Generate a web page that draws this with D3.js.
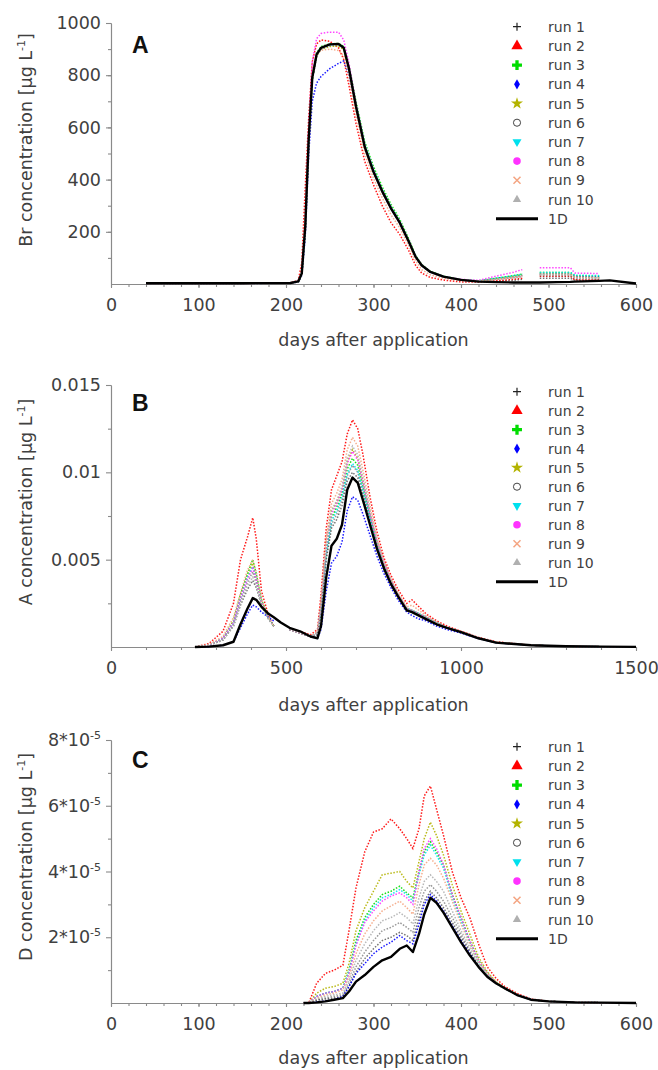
<!DOCTYPE html>
<html><head><meta charset="utf-8">
<script src="https://cdn.jsdelivr.net/npm/d3@7"></script>
<style>body{margin:0;background:#fff}</style>
</head><body><svg id="c" width="658" height="1070"></svg>
<script>
// ---------------- DATA ----------------
const seriesNames = ['run 1','run 2','run 3','run 4','run 5','run 6','run 7','run 8','run 9','run 10','1D'];

// Panel A: Br
const daysA = [40,150,205,214,218,222,226,230,235,240,250,260,266,272,280,290,300,310,320,330,340,348,355,365,380,400,420,440,460,470,480,490,510,525,530,558,570,600];
const br1D   = [3,3,4,10,40,220,560,790,880,905,918,920,905,825,680,525,430,355,290,235,165,105,72,46,28,16,9,7,6,6,6,6,7,8,9,12,14,2];
const brRun1 = [2,2,3,9,35,200,540,780,875,900,912,915,900,822,678,522,428,352,288,232,162,103,70,45,27,15,9,10,14,18,null,22,22,22,15,14,null,null];
const brRun2 = [2,2,4,14,80,370,640,850,920,935,930,905,860,760,615,470,380,300,235,190,130,72,42,25,15,8,8,12,18,22,null,30,30,30,16,15,null,null];
const brRun3 = [2,2,3,9,38,210,550,785,885,910,920,922,910,835,700,545,450,372,305,248,175,110,75,48,30,17,12,22,32,38,null,44,44,44,32,30,null,null];
const brRun4 = [2,2,3,8,32,180,500,700,770,795,825,845,855,800,675,520,428,352,288,233,163,104,71,45,27,15,11,20,28,33,null,38,38,38,28,26,null,null];
const brRun5 = [2,2,3,9,36,205,545,780,875,900,910,912,898,820,676,522,428,354,290,236,166,106,72,46,28,16,11,20,28,33,null,38,38,38,26,24,null,null];
const brRun6 = [2,2,3,9,36,205,548,785,878,902,915,918,903,824,680,524,430,355,290,235,165,105,72,46,28,16,10,18,24,28,null,32,32,32,22,20,null,null];
const brRun7 = [2,2,3,9,38,210,550,785,880,905,915,918,905,828,690,535,440,362,296,240,168,107,73,47,29,17,12,22,32,38,null,44,44,44,34,32,null,null];
const brRun8 = [2,2,3,10,45,240,600,850,940,960,965,965,935,845,690,530,435,358,292,238,167,106,73,47,29,18,14,30,45,55,null,62,62,62,42,40,null,null];
const brRun9 = [2,2,3,10,50,260,580,810,880,895,900,895,875,795,650,500,405,330,265,215,150,90,55,35,22,13,10,18,26,30,null,36,36,36,26,24,null,null];
const brRun10= [2,2,3,9,37,210,548,782,877,902,914,917,903,826,682,528,433,357,292,237,166,106,72,46,28,16,10,18,25,30,null,35,35,35,24,22,null,null];

// Panel B: A
const daysB = [240,280,320,350,370,390,405,415,430,450,465,485,510,540,570,590,600,615,630,645,660,675,690,705,720,740,760,780,800,820,845,860,880,900,930,960,1000,1050,1100,1200,1300,1400,1500];
const a1D   = [0,0.00002,0.0001,0.0003,0.0013,0.0022,0.0028,0.0027,0.0023,0.0019,0.0017,0.0014,0.0011,0.0009,0.0006,0.0005,0.0012,0.0040,0.0058,0.0062,0.0070,0.0090,0.0097,0.0094,0.0084,0.0070,0.0056,0.0045,0.0036,0.0029,0.0021,0.0020,0.0018,0.0016,0.0013,0.0011,0.00085,0.0005,0.00025,0.0001,0.00004,0.00002,0.00001];
const aRun1 = [0,0.0001,0.0004,0.0012,0.0024,0.0033,0.0038,0.0034,0.0024,0.0016,0.0012,null,0.001,0.0008,0.0006,0.0007,0.0019,0.0050,0.0068,0.0073,0.0081,0.0095,0.0100,0.0097,0.0087,0.0072,0.0057,0.0046,0.0037,0.0029,0.0021,0.0020,0.0018,0.0016,0.0013,0.0011,0.00085,0.0005,0.00025,0.0001,0.00004,0.00002,0.00001];
const aRun2 = [0,0.0002,0.0009,0.0025,0.0050,0.0063,0.0074,0.0062,0.0032,0.0018,0.0012,null,0.0011,0.0009,0.0007,0.0010,0.0030,0.0068,0.0090,0.0098,0.0106,0.0122,0.0130,0.0125,0.0110,0.0086,0.0066,0.0051,0.0041,0.0033,0.0025,0.0027,0.0023,0.0019,0.0015,0.0012,0.0009,0.00055,0.0003,0.0001,0.00004,0.00002,0.00001];
const aRun3 = [0,0.0001,0.0005,0.0015,0.003,0.0042,0.0050,0.0042,0.0027,0.0017,0.0012,null,0.001,0.0008,0.0006,0.0008,0.0022,0.0055,0.0074,0.0080,0.0088,0.0102,0.0108,0.0104,0.0092,0.0075,0.0059,0.0047,0.0038,0.003,0.0022,0.0021,0.0019,0.0017,0.0014,0.0011,0.00086,0.0005,0.00026,0.0001,0.00004,0.00002,0.00001];
const aRun4 = [0,0.00002,0.0001,0.0003,0.0011,0.0019,0.0024,0.0023,0.002,0.0017,0.0015,null,0.001,0.0008,0.0006,0.0005,0.0010,0.0032,0.0048,0.0052,0.0060,0.0078,0.0086,0.0084,0.0076,0.0064,0.0052,0.0042,0.0034,0.0027,0.002,0.0018,0.0016,0.0015,0.0012,0.001,0.0008,0.00048,0.00024,0.0001,0.00004,0.00002,0.00001];
const aRun5 = [0,0.0001,0.0005,0.0015,0.0029,0.0041,0.0048,0.004,0.0026,0.0017,0.0012,null,0.001,0.0008,0.0006,0.0008,0.0024,0.006,0.0078,0.0083,0.0090,0.0106,0.0113,0.0108,0.0095,0.0077,0.006,0.0048,0.0038,0.003,0.0022,0.0021,0.0019,0.0017,0.0014,0.0011,0.00086,0.0005,0.00026,0.0001,0.00004,0.00002,0.00001];
const aRun6 = [0,0.0001,0.0004,0.0013,0.0026,0.0037,0.0043,0.0037,0.0025,0.0017,0.0012,null,0.001,0.0008,0.0006,0.0007,0.0020,0.0052,0.0070,0.0076,0.0084,0.0098,0.0104,0.0100,0.0089,0.0073,0.0058,0.0046,0.0037,0.0029,0.0021,0.0020,0.0018,0.0016,0.0013,0.0011,0.00085,0.0005,0.00025,0.0001,0.00004,0.00002,0.00001];
const aRun7 = [0,0.0001,0.0005,0.0014,0.0028,0.004,0.0046,0.004,0.0026,0.0017,0.0012,null,0.001,0.0008,0.0006,0.0008,0.0022,0.0054,0.0072,0.0078,0.0086,0.0099,0.0105,0.0101,0.009,0.0074,0.0058,0.0047,0.0037,0.003,0.0022,0.0021,0.0019,0.0017,0.0014,0.0011,0.00086,0.0005,0.00026,0.0001,0.00004,0.00002,0.00001];
const aRun8 = [0,0.0001,0.0005,0.0014,0.0028,0.0039,0.0045,0.0039,0.0026,0.0017,0.0012,null,0.001,0.0008,0.0006,0.0008,0.0024,0.0058,0.0076,0.0082,0.0090,0.0105,0.0112,0.0107,0.0094,0.0076,0.006,0.0048,0.0038,0.003,0.0022,0.0021,0.0019,0.0017,0.0014,0.0011,0.00086,0.0005,0.00026,0.0001,0.00004,0.00002,0.00001];
const aRun9 = [0,0.00015,0.0006,0.0017,0.0031,0.0044,0.0050,0.0043,0.0027,0.0017,0.0012,null,0.001,0.0008,0.0006,0.0009,0.0026,0.0062,0.0082,0.0088,0.0096,0.0113,0.0120,0.0115,0.0101,0.0081,0.0063,0.0049,0.0039,0.0031,0.0023,0.0024,0.0021,0.0018,0.0014,0.0011,0.00087,0.0005,0.00027,0.0001,0.00004,0.00002,0.00001];
const aRun10= [0,0.0001,0.0004,0.0012,0.0025,0.0035,0.0040,0.0035,0.0024,0.0016,0.0012,null,0.001,0.0008,0.0006,0.0008,0.0024,0.0058,0.0078,0.0084,0.0092,0.0108,0.0115,0.0110,0.0097,0.0078,0.0061,0.0048,0.0038,0.003,0.0022,0.0021,0.0019,0.0017,0.0014,0.0011,0.00086,0.0005,0.00026,0.0001,0.00004,0.00002,0.00001];

// Panel C: D
const daysC = [220,226,235,245,255,265,272,280,290,300,310,320,330,338,345,352,358,365,372,380,390,400,410,420,430,440,450,465,480,500,530,560,600];
const d1D   = [0,0,0.02e-5,0.05e-5,0.1e-5,0.15e-5,0.35e-5,0.65e-5,0.85e-5,1.1e-5,1.3e-5,1.4e-5,1.65e-5,1.75e-5,1.55e-5,2.1e-5,2.7e-5,3.2e-5,3.05e-5,2.75e-5,2.3e-5,1.85e-5,1.45e-5,1.1e-5,0.8e-5,0.6e-5,0.45e-5,0.23e-5,0.1e-5,0.05e-5,0.02e-5,0.01e-5,0];
const dRun1 = [0,0,0.08e-5,0.12e-5,0.15e-5,0.2e-5,0.5e-5,0.95e-5,1.35e-5,1.65e-5,1.9e-5,2.0e-5,2.15e-5,2.05e-5,1.9e-5,2.6e-5,3.1e-5,3.4e-5,3.2e-5,2.9e-5,2.45e-5,2.0e-5,1.55e-5,1.12e-5,0.82e-5,0.6e-5,0.43e-5,0.24e-5,0.1e-5,0.05e-5,0.02e-5,0.01e-5,0];
const dRun2 = [0,0,0.6e-5,0.9e-5,1.0e-5,1.15e-5,2.2e-5,3.5e-5,4.6e-5,5.2e-5,5.3e-5,5.6e-5,5.3e-5,5.0e-5,4.7e-5,5.3e-5,6.3e-5,6.6e-5,5.9e-5,5.1e-5,4.0e-5,3.2e-5,2.6e-5,1.8e-5,1.1e-5,0.75e-5,0.5e-5,0.28e-5,0.12e-5,0.05e-5,0.02e-5,0.01e-5,0];
const dRun3 = [0,0,0.2e-5,0.3e-5,0.35e-5,0.45e-5,1.0e-5,1.9e-5,2.6e-5,3.0e-5,3.3e-5,3.4e-5,3.55e-5,3.35e-5,3.2e-5,4.0e-5,4.6e-5,4.9e-5,4.6e-5,4.2e-5,3.3e-5,2.6e-5,1.9e-5,1.3e-5,0.9e-5,0.62e-5,0.44e-5,0.24e-5,0.1e-5,0.05e-5,0.02e-5,0.01e-5,0];
const dRun4 = [0,0,0.03e-5,0.06e-5,0.1e-5,0.2e-5,0.5e-5,0.9e-5,1.2e-5,1.5e-5,1.7e-5,1.85e-5,2.05e-5,1.9e-5,1.8e-5,2.4e-5,3.0e-5,3.3e-5,3.1e-5,2.8e-5,2.35e-5,1.9e-5,1.5e-5,1.12e-5,0.82e-5,0.6e-5,0.44e-5,0.24e-5,0.1e-5,0.05e-5,0.02e-5,0.01e-5,0];
const dRun5 = [0,0,0.3e-5,0.45e-5,0.5e-5,0.6e-5,1.2e-5,2.2e-5,2.9e-5,3.4e-5,3.9e-5,3.95e-5,4.0e-5,3.7e-5,3.5e-5,4.3e-5,5.0e-5,5.5e-5,5.1e-5,4.5e-5,3.6e-5,2.8e-5,2.1e-5,1.4e-5,0.95e-5,0.65e-5,0.45e-5,0.25e-5,0.1e-5,0.05e-5,0.02e-5,0.01e-5,0];
const dRun6 = [0,0,0.1e-5,0.15e-5,0.2e-5,0.25e-5,0.6e-5,1.1e-5,1.55e-5,1.9e-5,2.2e-5,2.3e-5,2.45e-5,2.3e-5,2.15e-5,2.9e-5,3.4e-5,3.6e-5,3.4e-5,3.1e-5,2.6e-5,2.1e-5,1.6e-5,1.15e-5,0.83e-5,0.6e-5,0.43e-5,0.24e-5,0.1e-5,0.05e-5,0.02e-5,0.01e-5,0];
const dRun7 = [0,0,0.2e-5,0.3e-5,0.35e-5,0.45e-5,0.95e-5,1.8e-5,2.5e-5,2.9e-5,3.2e-5,3.3e-5,3.45e-5,3.3e-5,3.1e-5,3.9e-5,4.5e-5,4.8e-5,4.5e-5,4.1e-5,3.2e-5,2.5e-5,1.85e-5,1.25e-5,0.88e-5,0.6e-5,0.43e-5,0.24e-5,0.1e-5,0.05e-5,0.02e-5,0.01e-5,0];
const dRun8 = [0,0,0.2e-5,0.3e-5,0.35e-5,0.45e-5,0.9e-5,1.75e-5,2.45e-5,2.8e-5,3.1e-5,3.25e-5,3.35e-5,3.2e-5,3.0e-5,4.0e-5,4.7e-5,5.0e-5,4.7e-5,4.2e-5,3.3e-5,2.6e-5,1.9e-5,1.3e-5,0.9e-5,0.62e-5,0.44e-5,0.24e-5,0.1e-5,0.05e-5,0.02e-5,0.01e-5,0];
const dRun9 = [0,0,0.15e-5,0.25e-5,0.3e-5,0.4e-5,0.8e-5,1.5e-5,2.1e-5,2.5e-5,2.8e-5,2.95e-5,3.1e-5,2.9e-5,2.7e-5,3.6e-5,4.2e-5,4.4e-5,4.2e-5,3.8e-5,3.1e-5,2.4e-5,1.8e-5,1.25e-5,0.88e-5,0.6e-5,0.43e-5,0.24e-5,0.1e-5,0.05e-5,0.02e-5,0.01e-5,0];
const dRun10= [0,0,0.12e-5,0.2e-5,0.25e-5,0.3e-5,0.7e-5,1.3e-5,1.8e-5,2.2e-5,2.5e-5,2.6e-5,2.75e-5,2.6e-5,2.4e-5,3.2e-5,3.7e-5,3.9e-5,3.7e-5,3.4e-5,2.8e-5,2.2e-5,1.7e-5,1.2e-5,0.85e-5,0.6e-5,0.43e-5,0.24e-5,0.1e-5,0.05e-5,0.02e-5,0.01e-5,0];

// Axis ticks
const xTicksA = [0,100,200,300,400,500,600];
const yTicksA = [200,400,600,800,1000];
const yTickLabelsA = ['200','400','600','800','1000'];
const xTicksB = [0,500,1000,1500];
const yTicksB = [0.005,0.01,0.015];
const yTickLabelsB = ['0.005','0.01','0.015'];
const xTicksC = [0,100,200,300,400,500,600];
const yTicksC = [2e-5,4e-5,6e-5,8e-5];
const yTickMantissaC = ['2*10','4*10','6*10','8*10'];
const yTickExpC = '-5';

// ---------------- STYLE / LAYOUT ----------------
const colors = ['#000000','#ff0000','#00dd00','#0000ff','#b3b300','#444444','#00e0ee','#ff33ff','#f4a582','#b0b0b0','#000000'];
const FONT = "'DejaVu Sans', sans-serif";
const svg = d3.select('#c');
const X0 = 111, X1 = 636;

function drawPanel(cfg) {
  const x = d3.scaleLinear().domain(cfg.xDomain).range([X0, X1]);
  const y = d3.scaleLinear().domain(cfg.yDomain).range([cfg.yBot, cfg.yTop]);
  const g = svg.append('g');

  // minor ticks
  g.append('g').attr('transform', `translate(0,${cfg.yBot})`)
    .call(d3.axisBottom(x).tickValues(cfg.xMinor).tickSize(3).tickFormat('').tickSizeOuter(0));
  g.append('g').attr('transform', `translate(${X0},0)`)
    .call(d3.axisLeft(y).tickValues(cfg.yMinor).tickSize(3).tickFormat('').tickSizeOuter(0));
  // major
  const xa = g.append('g').attr('transform', `translate(0,${cfg.yBot})`)
    .call(d3.axisBottom(x).tickValues(cfg.xTicks).tickSize(4).tickPadding(11).tickSizeOuter(0).tickFormat(d3.format('d')));
  const ya = g.append('g').attr('transform', `translate(${X0},0)`)
    .call(d3.axisLeft(y).tickValues(cfg.yTicks).tickSize(5).tickPadding(5).tickSizeOuter(0)
      .tickFormat((d,i) => cfg.yLabels ? cfg.yLabels[i] : ''));
  if (cfg.yMant) {
    ya.selectAll('.tick text').each(function(d,i){
      const t = d3.select(this);
      t.text(null);
      t.append('tspan').text(cfg.yMant[i]);
      t.append('tspan').attr('font-size', 11).attr('dy', -7).text(cfg.yExp);
    });
  }
  g.selectAll('.domain, .tick line').attr('stroke', '#8a8a8a').attr('stroke-width', 1.1);
  g.selectAll('.tick text').attr('font-family', FONT).attr('font-size', 17.5).attr('fill', '#404040');

  // series
  const line = d3.line().defined(d => d[1] != null).x(d => x(d[0])).y(d => y(d[1]));
  cfg.runs.forEach((vals, k) => {
    const pts = cfg.days.map((d, i) => [d, vals[i]]);
    g.append('path').attr('d', line(pts)).attr('fill', 'none')
      .attr('stroke', colors[k]).attr('stroke-width', 1.5)
      .attr('stroke-dasharray', '1.5 1.6').attr('opacity', k === 0 || k === 5 ? 0.55 : 0.9);
  });
  const pts1 = cfg.days.map((d, i) => [d, cfg.oneD[i]]);
  g.append('path').attr('d', line(pts1)).attr('fill', 'none')
    .attr('stroke', '#000').attr('stroke-width', 2.4).attr('stroke-linejoin', 'round');

  // axis titles
  svg.append('text').attr('x', (X0 + X1) / 2).attr('y', cfg.xTitleY).attr('text-anchor', 'middle')
    .attr('font-family', FONT).attr('font-size', 17.5).attr('fill', '#404040').text('days after application');
  const yt = svg.append('text').attr('transform', `translate(32,${cfg.yTitleC}) rotate(-90)`)
    .attr('text-anchor', 'middle').attr('font-family', FONT).attr('font-size', 17.5).attr('fill', '#404040');
  yt.append('tspan').text(cfg.yTitle + ' concentration [µg L');
  yt.append('tspan').attr('font-size', 11).attr('dy', -7).text('-1');
  yt.append('tspan').attr('dy', 7).text(']');

  // panel letter
  svg.append('text').attr('x', 132).attr('y', cfg.letterY).attr('font-family', "'Liberation Sans', Arial, sans-serif")
    .attr('font-weight', 'bold').attr('font-size', 23).attr('fill', '#111').text(cfg.letter);

  // legend
  const lg = svg.append('g');
  seriesNames.forEach((name, k) => {
    const yy = cfg.legY + k * cfg.legStep;
    const mx = 517;
    if (k === 10) {
      lg.append('line').attr('x1', 496).attr('x2', 538).attr('y1', yy).attr('y2', yy)
        .attr('stroke', '#000').attr('stroke-width', 3);
    } else {
      drawMarker(lg, k, mx, yy);
    }
    lg.append('text').attr('x', 548).attr('y', yy).attr('dy', '0.36em')
      .attr('font-family', FONT).attr('font-size', 14).attr('fill', '#404040').text(name);
  });
}

function drawMarker(g, k, x, y) {
  const c = colors[k];
  const sym = (type, size, fill, stroke, rot) => g.append('path')
    .attr('d', d3.symbol().type(type).size(size)())
    .attr('transform', `translate(${x},${y})` + (rot ? ` rotate(${rot})` : ''))
    .attr('fill', fill).attr('stroke', stroke || 'none');
  switch (k) {
    case 0:
      g.append('path').attr('d', `M${x-4},${y}H${x+4}M${x},${y-4}V${y+4}`).attr('stroke', '#222').attr('stroke-width', 1.2);
      break;
    case 1: sym(d3.symbolTriangle, 55, c); break;
    case 2: sym(d3.symbolCross, 55, c); break;
    case 3: sym(d3.symbolDiamond, 30, c); break;
    case 4: sym(d3.symbolStar, 45, c); break;
    case 5: sym(d3.symbolCircle, 40, '#fff', '#444'); break;
    case 6: sym(d3.symbolTriangle, 35, c, null, 180); break;
    case 7: sym(d3.symbolCircle, 45, c); break;
    case 8:
      g.append('path').attr('d', `M${x-3.5},${y-3.5}L${x+3.5},${y+3.5}M${x-3.5},${y+3.5}L${x+3.5},${y-3.5}`)
        .attr('stroke', c).attr('stroke-width', 1.5);
      break;
    case 9: sym(d3.symbolTriangle, 30, c); break;
  }
}

drawPanel({
  xDomain: [0, 600], yDomain: [0, 1000], yTop: 23, yBot: 284,
  xTicks: xTicksA, xMinor: d3.range(0, 601, 20),
  yTicks: yTicksA, yLabels: yTickLabelsA, yMinor: d3.range(100, 1000, 100),
  days: daysA, oneD: br1D,
  runs: [brRun1, brRun2, brRun3, brRun4, brRun5, brRun6, brRun7, brRun8, brRun9, brRun10],
  xTitleY: 346, yTitle: 'Br', yTitleC: 140, letter: 'A', letterY: 53,
  legY: 26.7, legStep: 19.2
});
drawPanel({
  xDomain: [0, 1500], yDomain: [0, 0.015], yTop: 385, yBot: 647,
  xTicks: xTicksB, xMinor: d3.range(0, 1501, 100),
  yTicks: yTicksB, yLabels: yTickLabelsB, yMinor: [0.0025, 0.0075, 0.0125],
  days: daysB, oneD: a1D,
  runs: [aRun1, aRun2, aRun3, aRun4, aRun5, aRun6, aRun7, aRun8, aRun9, aRun10],
  xTitleY: 711, yTitle: 'A', yTitleC: 502, letter: 'B', letterY: 411,
  legY: 391.7, legStep: 19
});
drawPanel({
  xDomain: [0, 600], yDomain: [0, 8e-5], yTop: 740, yBot: 1003,
  xTicks: xTicksC, xMinor: d3.range(0, 601, 20),
  yTicks: yTicksC, yMant: yTickMantissaC, yExp: yTickExpC, yLabels: null, yMinor: [1e-5, 3e-5, 5e-5, 7e-5],
  days: daysC, oneD: d1D,
  runs: [dRun1, dRun2, dRun3, dRun4, dRun5, dRun6, dRun7, dRun8, dRun9, dRun10],
  xTitleY: 1064, yTitle: 'D', yTitleC: 857, letter: 'C', letterY: 768,
  legY: 746.7, legStep: 19.2
});
</script></body></html>
